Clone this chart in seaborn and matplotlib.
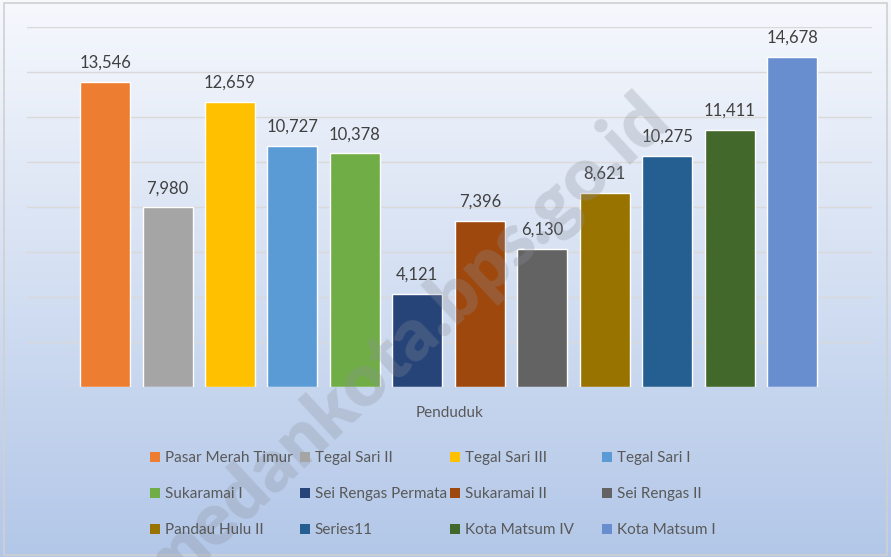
import numpy as np
import pandas as pd
import seaborn as sns
import matplotlib.pyplot as plt
from matplotlib.patches import Patch

# kelurahan and population
names = ['Pasar Merah Timur', 'Tegal Sari II', 'Tegal Sari III', 'Tegal Sari I',
         'Sukaramai I', 'Sei Rengas Permata', 'Sukaramai II', 'Sei Rengas II',
         'Pandau Hulu II', 'Series11', 'Kota Matsum IV', 'Kota Matsum I']
penduduk = [13546, 7980, 12659, 10727, 10378, 4121, 7396, 6130, 8621, 10275, 11411, 14678]
colors = ['#ED7D31', '#A5A5A5', '#FFC000', '#5B9BD5', '#70AD47', '#264478',
          '#9E480E', '#636363', '#997300', '#255E91', '#43682B', '#698ED0']

df = pd.DataFrame({'name': names, 'penduduk': penduduk})

sns.set_style('white')
plt.rcParams['font.family'] = ['Lato', 'DejaVu Sans']

fig = plt.figure(figsize=(8.91, 5.57), dpi=100)

# gradient background
bg = fig.add_axes([0, 0, 1, 1], zorder=0)
grad = np.linspace(0, 1, 256).reshape(-1, 1)
top = np.array([0.965, 0.973, 0.992])
bot = np.array([0.70, 0.78, 0.91])
img = top + (bot - top) * grad[..., None]
bg.imshow(img, aspect='auto', extent=[0, 1, 0, 1], origin='upper')
bg.add_patch(plt.Rectangle((0.004, 0.004), 0.992, 0.99, fill=False,
                           edgecolor='#d0d0d0', lw=1.2, transform=bg.transAxes))
bg.set_axis_off()

ax = fig.add_axes([27 / 891, 170 / 557, 845 / 891, 360 / 557], zorder=1)
ax.patch.set_alpha(0)
sns.barplot(data=df, x='name', y='penduduk', hue='name', palette=colors,
            width=0.8, legend=False, ax=ax, saturation=1)

ax.set_ylim(0, 16000)
ax.set_xlim(-1.25, 12.28)
ax.set_yticks(range(0, 16001, 2000))
ax.yaxis.grid(True, color='#d9d9d9', lw=1)
ax.set_axisbelow(True)
ax.set_yticklabels([])
ax.set_xticks([])
ax.tick_params(left=False, bottom=False)
for s in ax.spines.values():
    s.set_visible(False)
ax.set_ylabel('')
ax.set_xlabel('Penduduk', fontsize=11, color='#595959', labelpad=14)

for i, v in enumerate(penduduk):
    ax.text(i, v + 500, f'{v:,}', ha='center', va='bottom', fontsize=12, color='#404040')

# legend: 4 fixed-width columns, filled row by row
col_x = [144, 294, 444, 596]
for c in range(4):
    idx = list(range(c, 12, 4))
    handles = [Patch(facecolor=colors[i], edgecolor='none') for i in idx]
    leg = fig.legend(handles, [names[i] for i in idx], loc='upper left',
                     bbox_to_anchor=(col_x[c] / 891, 1 - 445 / 557),
                     frameon=False, fontsize=11, labelcolor='#595959',
                     handlelength=0.65, handleheight=0.65, handletextpad=0.3,
                     labelspacing=1.45, borderaxespad=0)

# watermark
fig.text(0.455, 0.385, 'medankota.bps.go.id', fontsize=53, fontweight='heavy',
         color='#8a909a', alpha=0.28, rotation=43, ha='center', va='center', zorder=5)

fig.savefig('out.png', dpi=100)
